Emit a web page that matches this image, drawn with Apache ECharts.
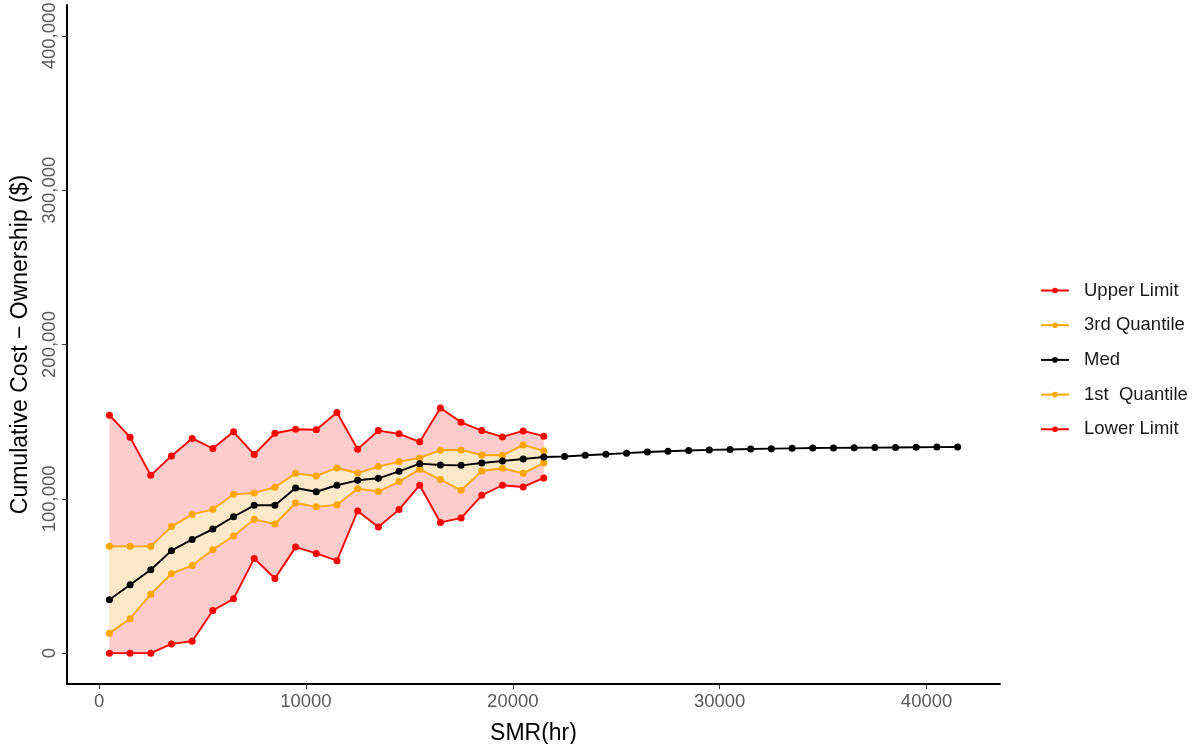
<!DOCTYPE html>
<html>
<head>
<meta charset="utf-8">
<script src="https://cdn.jsdelivr.net/npm/echarts@6/dist/echarts.min.js"></script>
<style>
  html, body { margin: 0; padding: 0; background: #ffffff; }
  #chart { width: 1193px; height: 744px; }
</style>
</head>
<body>
<div id="chart"></div>
<script>
// Service meter reading (hours), one point per 1000 hr bucket
const smr = [500, 1500, 2500, 3500, 4500, 5500, 6500, 7500, 8500, 9500,
  10500, 11500, 12500, 13500, 14500, 15500, 16500, 17500, 18500, 19500,
  20500, 21500, 22500, 23500, 24500, 25500, 26500, 27500, 28500, 29500,
  30500, 31500, 32500, 33500, 34500, 35500, 36500, 37500, 38500, 39500,
  40500, 41500];

// Cumulative ownership cost ($) — spread statistics (first 22 buckets)
const upperLimit = [154200, 139900, 115200, 127800, 139100, 132600, 143400, 128700, 142500, 145100,
  144800, 155900, 132100, 144200, 142100, 136900, 158900, 149600, 144200, 140100,
  144000, 140600];
const q3 = [69200, 69200, 69200, 82000, 89900, 93200, 102900, 103800, 107500, 116500,
  114800, 120000, 116700, 120900, 124100, 126500, 131500, 131700, 128400, 128200,
  134900, 131000];
const q1 = [12900, 22300, 38200, 51500, 56800, 67000, 75900, 86700, 83700, 97300,
  94800, 96200, 106600, 104700, 111200, 119100, 112500, 105500, 118000, 119800,
  116500, 123200];
const lowerLimit = [0, 0, 0, 6000, 7700, 27600, 35200, 61400, 48400, 68700,
  64600, 59900, 92100, 81700, 93000, 108800, 84700, 87500, 102300, 108800,
  107700, 113500];
// Median over every bucket
const med = [34600, 44300, 54000, 66400, 73700, 80400, 88400, 95800, 95800, 107000,
  104600, 108800, 112000, 113300, 117800, 122800, 121900, 121700, 123200, 124500,
  125800, 127100, 127400, 128200, 128900, 129600, 130300, 130800, 131300, 131700,
  132000, 132300, 132500, 132700, 132900, 133000, 133100, 133200, 133300, 133400,
  133500, 133600];

const xTicks = [0, 10000, 20000, 30000, 40000];
const yTicks = [0, 100000, 200000, 300000, 400000];

const RED = '#FF0000';
const ORANGE = '#FFA500';
const BLACK = '#000000';
const FONT = "'Liberation Sans', Arial, Helvetica, sans-serif";

const pairs = (ys) => ys.map((y, i) => [smr[i], y]);

// Shaded ribbon between two curves, drawn as one polygon in data coordinates
function ribbon(lo, hi, fill, z) {
  return {
    type: 'custom',
    silent: true,
    z: z,
    data: pairs(lo),
    encode: { x: 0, y: 1 },
    renderItem: function (params, api) {
      if (params.dataIndex !== 0) return null;
      const top = hi.map((v, i) => api.coord([smr[i], v]));
      const bottom = lo.map((v, i) => api.coord([smr[i], v])).reverse();
      return {
        type: 'polygon',
        shape: { points: top.concat(bottom) },
        style: { fill: fill, stroke: null }
      };
    }
  };
}

function lineSeries(name, ys, color, z) {
  return {
    name: name, type: 'line', data: pairs(ys),
    symbol: 'circle', symbolSize: 7, showAllSymbol: true,
    lineStyle: { color: color, width: 1.9 },
    itemStyle: { color: color },
    z: z
  };
}

const chart = echarts.init(document.getElementById('chart'), null, { renderer: 'canvas' });

chart.setOption({
  animation: false,
  backgroundColor: '#ffffff',
  grid: { left: 67, right: 193, top: 5, bottom: 60, outerBoundsMode: 'none' },
  legend: {
    orient: 'vertical',
    left: 1035,
    top: 276,
    itemWidth: 28,
    itemHeight: 7,
    itemGap: 15.7,
    textStyle: { fontFamily: FONT, fontSize: 18.5, color: '#1a1a1a', padding: [0, 0, 0, 10] },
    data: ['Upper Limit', '3rd Quantile', 'Med', '1st  Quantile', 'Lower Limit']
  },
  xAxis: {
    type: 'value',
    min: -1550,
    max: 43550,
    name: 'SMR(hr)',
    nameLocation: 'middle',
    nameGap: 38,
    nameTextStyle: { fontFamily: FONT, fontSize: 23, color: '#000' },
    axisLine: { onZero: false, lineStyle: { color: '#000', width: 2 } },
    axisTick: { show: true, length: 5, customValues: xTicks, lineStyle: { color: '#333', width: 1 } },
    axisLabel: {
      customValues: xTicks, fontFamily: FONT, fontSize: 18.5, color: '#595959', margin: 8,
      formatter: (v) => String(v)
    },
    splitLine: { show: false }
  },
  yAxis: {
    type: 'value',
    min: -20000,
    max: 420000,
    name: 'Cumulative Cost \u2212 Ownership ($)',
    nameLocation: 'middle',
    nameRotate: 90,
    nameGap: 33,
    nameTextStyle: { fontFamily: FONT, fontSize: 23, color: '#000' },
    axisLine: { onZero: false, lineStyle: { color: '#000', width: 2 } },
    axisTick: { show: true, length: 5, customValues: yTicks, lineStyle: { color: '#333', width: 1 } },
    axisLabel: {
      customValues: yTicks, rotate: 90, fontFamily: FONT, fontSize: 18.5, color: '#595959', margin: 8,
      formatter: (v) => v.toLocaleString('en-US')
    },
    splitLine: { show: false }
  },
  series: [
    ribbon(lowerLimit, upperLimit, '#FFCCCC', 1),
    ribbon(q1, q3, '#FEE8CA', 2),
    lineSeries('Upper Limit', upperLimit, RED, 3),
    lineSeries('Lower Limit', lowerLimit, RED, 3),
    lineSeries('3rd Quantile', q3, ORANGE, 4),
    lineSeries('1st  Quantile', q1, ORANGE, 4),
    lineSeries('Med', med, BLACK, 5)
  ]
});
</script>
</body>
</html>
